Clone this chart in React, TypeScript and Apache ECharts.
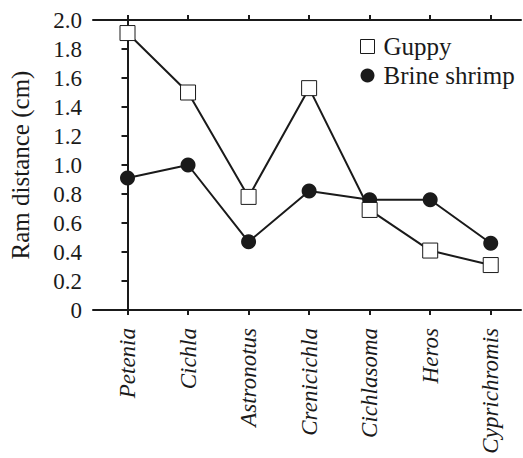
import React, { useEffect, useRef } from "react";
import * as echarts from "echarts";

const genera = ["Petenia", "Cichla", "Astronotus", "Crenicichla", "Cichlasoma", "Heros", "Cyprichromis"];
const guppy = [1.91, 1.5, 0.78, 1.53, 0.69, 0.41, 0.31];
const brineShrimp = [0.91, 1.0, 0.47, 0.82, 0.76, 0.76, 0.46];
const yMin = 0;
const yMax = 2.0;
const yStep = 0.2;

const FONT = "Times New Roman, Liberation Serif, Tinos, DejaVu Serif, serif";
const INK = "#1a1a1a";

export default function App() {
  const ref = useRef<HTMLDivElement>(null);
  useEffect(() => {
    if (!ref.current) return;
    const chart = echarts.init(ref.current, null, { renderer: "svg" });
    const idx = genera.map((_, i) => i);
    const xBase = {
      type: "value",
      min: -0.57,
      max: 6.5,
      splitLine: { show: false },
      axisLine: { show: true, lineStyle: { color: INK, width: 2 } },
      axisTick: { show: true, customValues: idx, length: 5, lineStyle: { color: INK, width: 2 } },
    };
    chart.setOption({
      animation: false,
      backgroundColor: "#ffffff",
      textStyle: { fontFamily: FONT },
      grid: { left: 92, right: 2, top: 20, bottom: 148 },
      legend: {
        orient: "vertical",
        left: 355,
        top: 29,
        itemGap: 4,
        itemWidth: 14,
        itemHeight: 14,
        textStyle: { fontFamily: FONT, fontSize: 25, color: INK, padding: [0, 0, 0, 4] },
        data: [
          { name: "Guppy", icon: "rect", itemStyle: { color: "#fff", borderColor: INK, borderWidth: 1 } },
          { name: "Brine shrimp", icon: "circle", itemStyle: { color: INK } },
        ],
      },
      xAxis: [
        {
          ...xBase,
          position: "bottom",
          axisLabel: {
            customValues: idx,
            rotate: 90,
            margin: 18,
            fontFamily: FONT,
            fontStyle: "italic",
            fontSize: 23,
            color: INK,
            formatter: (v: number) => genera[Math.round(v)] ?? "",
          },
        },
        {
          ...xBase,
          position: "top",
          axisLabel: { show: false },
        },
      ],
      yAxis: {
        type: "value",
        min: yMin,
        max: yMax,
        interval: yStep,
        name: "Ram distance (cm)",
        nameLocation: "middle",
        nameGap: 60,
        nameTextStyle: { fontFamily: FONT, fontSize: 25, color: INK },
        splitLine: { show: false },
        axisLine: { show: true, lineStyle: { color: INK, width: 2 } },
        axisTick: { show: true, length: 6, lineStyle: { color: INK, width: 2 } },
        axisLabel: {
          fontFamily: FONT,
          fontSize: 23,
          color: INK,
          margin: 11,
          formatter: (v: number) => (v === 0 ? "0" : v.toFixed(1)),
        },
      },
      series: [
        {
          name: "Guppy",
          type: "line",
          data: guppy.map((v, i) => [i, v]),
          symbol: "rect",
          symbolSize: 15,
          z: 3,
          lineStyle: { color: INK, width: 2 },
          itemStyle: { color: "#fff", borderColor: INK, borderWidth: 1 },
        },
        {
          name: "Brine shrimp",
          type: "line",
          data: brineShrimp.map((v, i) => [i, v]),
          symbol: "circle",
          symbolSize: 15,
          z: 2,
          lineStyle: { color: INK, width: 2 },
          itemStyle: { color: INK },
        },
      ],
    });
    return () => chart.dispose();
  }, []);
  return <div ref={ref} style={{ width: 523, height: 458, position: "absolute", left: 0, top: 0 }} />;
}
